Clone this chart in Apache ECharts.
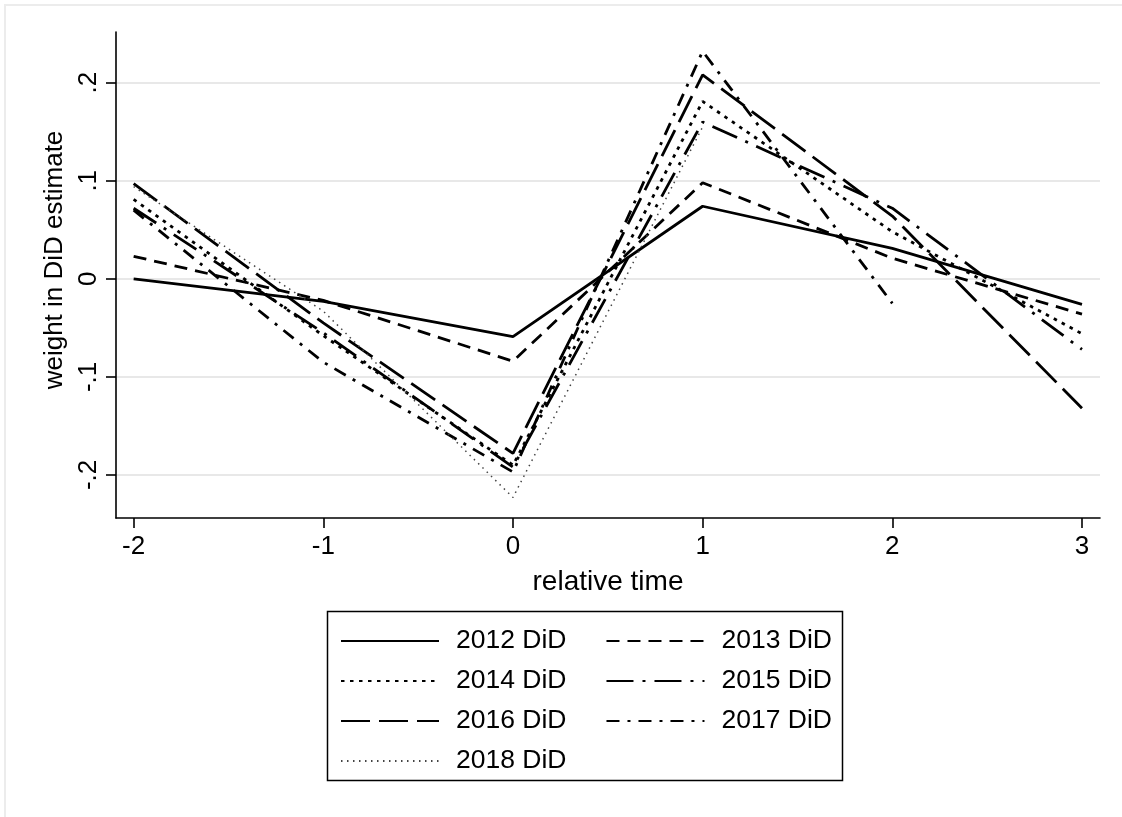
<!DOCTYPE html>
<html>
<head>
<meta charset="utf-8">
<script src="https://cdn.jsdelivr.net/npm/echarts@6/dist/echarts.min.js"></script>
<style>
  html, body { margin: 0; padding: 0; background: #fff; }
  #chart { width: 1122px; height: 817px; }
</style>
</head>
<body>
<div id="chart"></div>
<script>
// relative time (x) and the tick values shown on each axis
const relTime = [-2, -1, 0, 1, 2, 3];
const xTicks = [-2, -1, 0, 1, 2, 3];
const yTicks = [-0.2, -0.1, 0, 0.1, 0.2];

// weight in DiD estimate, one array per cohort (null = not estimated)
const did2012 = [0.000, -0.023, -0.059, 0.074, 0.031, -0.026];
const did2013 = [0.023, -0.022, -0.084, 0.098, 0.021, -0.036];
const did2014 = [0.081, -0.058, -0.190, 0.181, 0.048, -0.056];
const did2015 = [0.072, -0.055, -0.192, 0.160, 0.072, -0.072];
const did2016 = [0.097, -0.045, -0.178, 0.208, 0.064, -0.132];
const did2017 = [0.070, -0.085, -0.197, 0.232, -0.025, null];
const did2018 = [0.094, -0.033, -0.223, 0.155, null, null];

const FONT = 'Liberation Sans, Arial, Helvetica, sans-serif';

// stata-like line patterns
const lines = [
  { name: '2012 DiD', data: did2012, type: 'solid', width: 2.8 },
  { name: '2013 DiD', data: did2013, type: [13, 8], width: 2.8 },
  { name: '2014 DiD', data: did2014, type: [3.5, 5.5], width: 2.8 },
  { name: '2015 DiD', data: did2015, type: [27, 9, 3, 9], width: 2.8 },
  { name: '2016 DiD', data: did2016, type: [29, 9], width: 2.8 },
  { name: '2017 DiD', data: did2017, type: [13, 8, 3, 8], width: 2.8 },
  { name: '2018 DiD', data: did2018, type: [1.5, 4.5], width: 1.5, color: '#444' }
];

const toPairs = vals => relTime.map((t, i) => [t, vals[i]]).filter(p => p[1] !== null);

// y labels in stata style: .2, -.1, 0
const fmtY = v => {
  if (Math.abs(v) < 1e-9) return '0';
  return v.toFixed(1).replace(/^(-?)0\./, '$1.');
};

const chart = echarts.init(document.getElementById('chart'));

const option = {
  backgroundColor: '#fff',
  animation: false,
  textStyle: { fontFamily: FONT },
  graphic: [
    // faint outer frame
    { type: 'rect', shape: { x: 5, y: 5, width: 1130, height: 830 },
      style: { fill: 'none', stroke: '#ececec', lineWidth: 2 }, silent: true },
    // legend box
    { type: 'rect', shape: { x: 327.5, y: 611.5, width: 515, height: 169 },
      style: { fill: 'none', stroke: '#000', lineWidth: 1.5 }, silent: true, z: 10 }
  ],
  grid: { left: 116, top: 32, right: 22, bottom: 299, show: false },
  legend: {
    left: 340,
    top: 626,
    width: 540,
    padding: 0,
    itemWidth: 98,
    itemHeight: 14,
    itemGap: 10,
    itemStyle: { opacity: 0 },
    textStyle: { fontSize: 26.5, color: '#000', fontFamily: FONT, lineHeight: 30, padding: [0, 29, 0, 12] },
    data: lines.map(l => l.name)
  },
  xAxis: {
    type: 'value',
    min: -2.093,
    max: 3.095,
    name: 'relative time',
    nameLocation: 'middle',
    nameGap: 50,
    nameTextStyle: { fontSize: 28, color: '#000', fontFamily: FONT },
    axisLine: { show: true, onZero: false, lineStyle: { color: '#000', width: 1.6 } },
    axisTick: { show: true, inside: false, length: 10, customValues: xTicks, lineStyle: { color: '#000', width: 1.6 } },
    axisLabel: { customValues: xTicks, fontSize: 26, color: '#000', margin: 16, fontFamily: FONT },
    splitLine: { show: false }
  },
  yAxis: {
    type: 'value',
    min: -0.2439,
    max: 0.2517,
    name: 'weight in DiD estimate',
    nameLocation: 'middle',
    nameGap: 46,
    nameTextStyle: { fontSize: 26, color: '#000', fontFamily: FONT, padding: [0, 0, 0, 30] },
    axisLine: { show: true, onZero: false, lineStyle: { color: '#000', width: 1.6 } },
    axisTick: { show: true, inside: false, length: 10, customValues: yTicks, lineStyle: { color: '#000', width: 1.6 } },
    axisLabel: { customValues: yTicks, rotate: 90, fontSize: 26, color: '#000', margin: 14, fontFamily: FONT, formatter: fmtY },
    splitLine: { show: true, lineStyle: { color: '#e8e8e8', width: 2 } }
  },
  series: lines.map(l => ({
    name: l.name,
    type: 'line',
    data: toPairs(l.data),
    symbol: 'none',
    showSymbol: false,
    connectNulls: false,
    lineStyle: { color: l.color || '#000', width: l.width, type: l.type, cap: 'butt' },
    itemStyle: { color: l.color || '#000' }
  }))
};

chart.setOption(option);
</script>
</body>
</html>
